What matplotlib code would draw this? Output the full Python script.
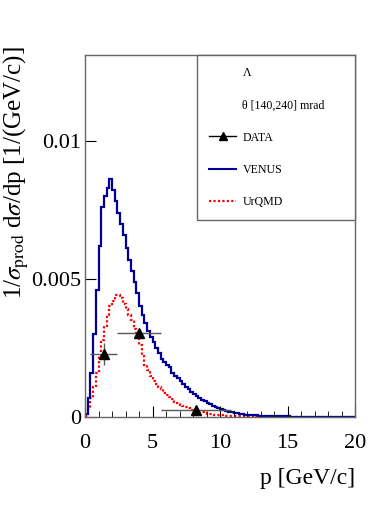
import matplotlib.pyplot as plt
import numpy as np
from matplotlib.lines import Line2D

plt.rcParams["font.family"] = ["Liberation Serif", "DejaVu Serif"]
plt.rcParams["mathtext.fontset"] = "stix"

# histogram binning: 100 bins of 0.2 GeV/c
p_edges = np.linspace(0, 20, 101)

venus = [
    0.0001, 0.0007, 0.0016, 0.0030, 0.0046, 0.0062, 0.0076, 0.0080, 0.0083, 0.0086,
    0.0082, 0.0078, 0.0074, 0.0070, 0.0066, 0.0061, 0.0057, 0.0053, 0.0049, 0.0045,
    0.0040, 0.0037, 0.0034, 0.0031, 0.0029, 0.0027, 0.0025, 0.0023, 0.0021, 0.0020,
    0.0019, 0.0018, 0.0016, 0.0015, 0.0014, 0.0013, 0.0012, 0.0011, 0.0010, 0.00092,
    0.00085, 0.00076, 0.00070, 0.00063, 0.00057, 0.00052, 0.00046, 0.00041, 0.00036, 0.00032,
    0.00028, 0.00025, 0.00022, 0.00019, 0.00017, 0.00015, 0.00013, 0.00012, 0.00010, 0.00009,
    0.00008, 0.00007, 0.00006, 0.00006, 0.00005, 0.00005, 0.00004, 0.00004, 0.00003, 0.00003,
    0.00002, 0.00002, 0.00002, 0.00002, 0.00002, 0.00002, 0.00001, 0.00001, 0.00001, 0.00001,
    0.00001, 0.00001, 0.00001, 0.00001, 0.00001, 0.00001, 0.00001, 0.00001, 0.00001, 0.00001,
    0.00001, 0.00001, 0.00001, 0.00001, 0.00001, 0.00001, 0.00001, 0.00001, 0.00001, 0.00001,
]

urqmd = [
    0.00005, 0.0003, 0.0007, 0.0011, 0.0016, 0.0022, 0.0028, 0.0033, 0.0037, 0.0040,
    0.0042, 0.0044, 0.0044, 0.0043, 0.0041, 0.0039, 0.0037, 0.0035, 0.0032, 0.0029,
    0.0026, 0.0022, 0.0019, 0.0017, 0.0015, 0.0013, 0.0012, 0.0011, 0.0010, 0.00088,
    0.00080, 0.00072, 0.00064, 0.00056, 0.00050, 0.00044, 0.00039, 0.00035, 0.00031, 0.00027,
    0.00024, 0.00021, 0.00019, 0.00017, 0.00014, 0.00012, 0.00011, 0.00009, 0.00008, 0.00007,
    0.00006, 0.00005, 0.00005, 0.00004, 0.00004, 0.00003, 0.00003, 0.00003, 0.00002, 0.00002,
    0.00002, 0.00002, 0.00002, 0.00001, 0.00001, 0.00001, 0.00001, 0.00001, 0.00001, 0.00001,
    0.00001, 0.00001, 0.00001, 0.00001, 0.00001, 0.00001, 0.00001, 0.00001, 0.00001, 0.00001,
    0.00001, 0.00001, 0.00001, 0.00001, 0.00001, 0.00001, 0.00001, 0.00001, 0.00001, 0.00001,
    0.00001, 0.00001, 0.00001, 0.00001, 0.00001, 0.00001, 0.00001, 0.00001, 0.00001, 0.00001,
]

data_p = [1.4, 4.0, 8.2]
data_val = [0.00228, 0.00303, 0.00024]
data_perr = [1.0, 1.6, 2.6]
data_verr = [0.0004, 0.0001, 0.00005]

fig = plt.figure(figsize=(3.74, 5.09), dpi=100)
ax = fig.add_axes([0.2273, 0.1807, 0.7219, 0.7112])

ax.stairs(urqmd, p_edges, color="#ff0000", lw=1.6, linestyle=(0, (1, 1)), baseline=None)
ax.stairs(venus, p_edges, color="#000099", lw=1.6, baseline=None)
ax.errorbar(data_p, data_val, xerr=data_perr, yerr=data_verr, fmt="^", color="black",
            ecolor="0.35", elinewidth=1, ms=7, capsize=0)

ax.set_xlim(0, 20)
ax.set_ylim(0, 0.0131)
ax.set_xticks([0, 5, 10, 15, 20])
ax.set_xticks(np.arange(0, 21, 1), minor=True)
ax.set_yticks([0, 0.005, 0.01], labels=["0", "0.005", "0.01"])
ax.tick_params(which="both", direction="in", top=False, right=False, labelsize=16)
ax.tick_params(axis="x", which="major", length=8, pad=12)
ax.tick_params(axis="x", which="minor", length=4)
ax.tick_params(axis="y", which="major", length=8, pad=3)
for s in ax.spines.values():
    s.set_color("#666666")
    s.set_linewidth(1)

ax.set_xlabel("p [GeV/c]", fontsize=17, loc="right")
ax.xaxis.set_label_coords(1.0, -0.14)
ax.set_ylabel(r"1/$\sigma_{\rm prod}$ d$\sigma$/dp [1/(GeV/c)]", fontsize=18, loc="top")
ax.yaxis.set_label_coords(-0.2, 1.025)

blank = Line2D([], [], color="none")
handles = [
    blank,
    blank,
    Line2D([], [], color="black", marker="^", ms=6, lw=1),
    Line2D([], [], color="#000099", lw=1.5),
    Line2D([], [], color="#ff0000", lw=1.6, linestyle=(0, (1, 1))),
]
labels = ["Λ", "θ [140,240] mrad", "DATA", "VENUS", "UrQMD"]
leg = ax.legend(handles, labels, loc="upper left", bbox_to_anchor=(0.415, 0.0, 0.585, 1.0),
                mode="expand", borderaxespad=0, fontsize=8.6, labelspacing=1.7,
                borderpad=1.0, handlelength=2.3, handletextpad=0.5, fancybox=False,
                framealpha=1, edgecolor="#666666")
leg.get_frame().set_linewidth(1)

fig.savefig("out.png", dpi=100)
